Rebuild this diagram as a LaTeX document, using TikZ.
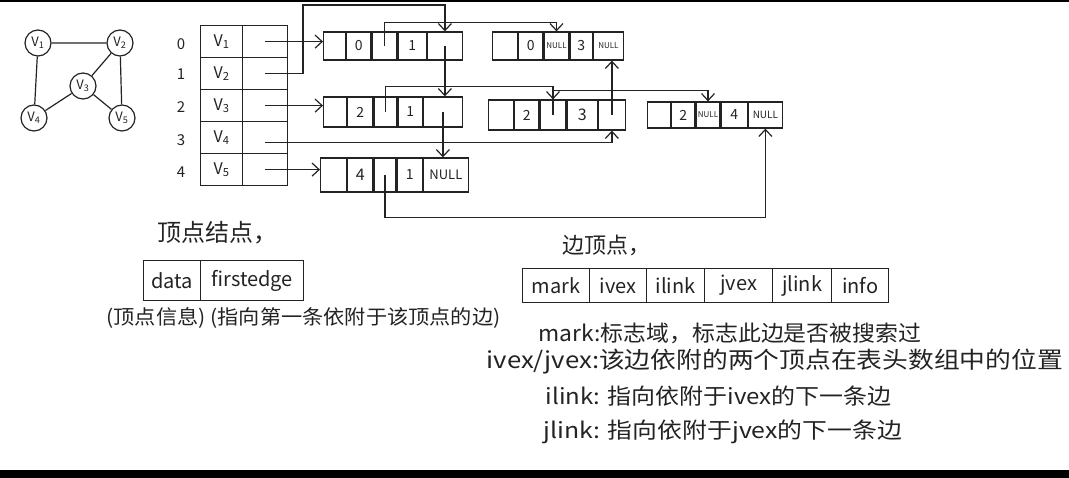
\documentclass[tikz,border=0pt]{standalone}
\usepackage{graphicx}
\usepackage{fontspec}
\setmainfont{Noto Sans CJK SC}
\usetikzlibrary{arrows.meta,calc}
\definecolor{ink}{RGB}{35,35,35}
\newcommand\fs[1]{\fontsize{#1}{#1}\selectfont}
\begin{document}
\begin{tikzpicture}[x=1pt,y=-1pt,line width=1.2pt,draw=ink,text=ink,
  vtx/.style={draw,circle,minimum size=26pt,inner sep=0pt,font=\fs{13}},
  vcell/.style={draw,anchor=north west,minimum height=32pt,inner sep=0pt,font=\fs{16}},
  idx/.style={inner sep=0pt,font=\fs{15}},
  ecell/.style={draw,anchor=west,inner sep=0pt,font=\fs{14}},
  nul/.style={font=\fs{8}},
  ptr/.style={-{Straight Barb[length=7pt,width=13pt]},line width=1.2pt},
  lbl/.style={inner sep=0pt},
  desc/.style={anchor=west,inner sep=0pt,font=\fs{22}},
  bcell/.style={draw,anchor=north west,inner sep=0pt,font=\fs{20}}]
\useasboundingbox (0,0) rectangle (1069,478);
\fill[black] (0,0) rectangle (1069,2);
\fill[black] (0,470) rectangle (1069,478);

% graph
\node[vtx] (v1) at (38,43) {V\textsubscript{1}};
\node[vtx] (v2) at (120,43) {V\textsubscript{2}};
\node[vtx] (v3) at (83,86) {V\textsubscript{3}};
\node[vtx] (v4) at (34,118) {V\textsubscript{4}};
\node[vtx] (v5) at (122,118) {V\textsubscript{5}};
\draw (v1)--(v2) (v1)--(v4) (v2)--(v3) (v2)--(v5) (v3)--(v4) (v3)--(v5);

% vertex table
\node[vcell,minimum width=42pt] (d0) at (200,25) {V\textsubscript{1}};
\node[vcell,minimum width=45pt] (f0) at (242,25) {};
\node[vcell,minimum width=42pt] (d1) at (200,57) {V\textsubscript{2}};
\node[vcell,minimum width=45pt] (f1) at (242,57) {};
\node[vcell,minimum width=42pt] (d2) at (200,89) {V\textsubscript{3}};
\node[vcell,minimum width=45pt] (f2) at (242,89) {};
\node[vcell,minimum width=42pt] (d3) at (200,121) {V\textsubscript{4}};
\node[vcell,minimum width=45pt] (f3) at (242,121) {};
\node[vcell,minimum width=42pt] (d4) at (200,153) {V\textsubscript{5}};
\node[vcell,minimum width=45pt] (f4) at (242,153) {};
\node[idx] (i0) at (181,44) {0};
\node[idx] (i1) at (181,74) {1};
\node[idx] (i2) at (181,107) {2};
\node[idx] (i3) at (181,140) {3};
\node[idx] (i4) at (181,172) {4};

% edge node A (0,1)
\node[ecell,minimum height=28pt,minimum width=22pt] (A1) at (323,46) {};
\node[ecell,minimum height=28pt,minimum width=24pt] (A2) at (A1.east) {0};
\node[ecell,minimum height=28pt,minimum width=25pt] (A3) at (A2.east) {};
\node[ecell,minimum height=28pt,minimum width=28pt] (A4) at (A3.east) {1};
\node[ecell,minimum height=28pt,minimum width=35pt] (A5) at (A4.east) {};
% edge node B (0,3)
\node[ecell,minimum height=28pt,minimum width=25pt] (B1) at (492,46) {};
\node[ecell,minimum height=28pt,minimum width=24pt] (B2) at (B1.east) {0};
\node[ecell,minimum height=28pt,minimum width=25pt,nul] (B3) at (B2.east) {NULL};
\node[ecell,minimum height=28pt,minimum width=22pt] (B4) at (B3.east) {3};
\node[ecell,minimum height=28pt,minimum width=30pt,nul] (B5) at (B4.east) {NULL};
% edge node C (2,1)
\node[ecell,minimum height=30pt,minimum width=23pt] (C1) at (323,112) {};
\node[ecell,minimum height=30pt,minimum width=25pt] (C2) at (C1.east) {2};
\node[ecell,minimum height=30pt,minimum width=23pt] (C3) at (C2.east) {};
\node[ecell,minimum height=30pt,minimum width=24pt] (C4) at (C3.east) {1};
\node[ecell,minimum height=30pt,minimum width=39pt] (C5) at (C4.east) {};
% edge node D (2,3)
\node[ecell,minimum height=30pt,minimum width=25pt] (D1) at (488,115) {};
\node[ecell,minimum height=30pt,minimum width=24pt] (D2) at (D1.east) {2};
\node[ecell,minimum height=30pt,minimum width=26pt] (D3) at (D2.east) {};
\node[ecell,minimum height=30pt,minimum width=30pt,font=\fs{16}] (D4) at (D3.east) {3};
\node[ecell,minimum height=30pt,minimum width=27pt] (D5) at (D4.east) {};
% edge node E (2,4)
\node[ecell,minimum height=26pt,minimum width=23pt] (E1) at (647,115) {};
\node[ecell,minimum height=26pt,minimum width=23pt] (E2) at (E1.east) {2};
\node[ecell,minimum height=26pt,minimum width=24pt,nul] (E3) at (E2.east) {NULL};
\node[ecell,minimum height=26pt,minimum width=26pt] (E4) at (E3.east) {4};
\node[ecell,minimum height=26pt,minimum width=34pt,font=\fs{10}] (E5) at (E4.east) {NULL};
% edge node F (4,1)
\node[ecell,minimum height=34pt,minimum width=26pt] (F1) at (320,175) {};
\node[ecell,minimum height=34pt,minimum width=25pt,font=\fs{16}] (F2) at (F1.east) {4};
\node[ecell,minimum height=34pt,minimum width=22pt] (F3) at (F2.east) {};
\node[ecell,minimum height=34pt,minimum width=25pt] (F4) at (F3.east) {1};
\node[ecell,minimum height=34pt,minimum width=45pt,font=\fs{13}] (F5) at (F4.east) {NULL};

% pointers from vertex table
\draw[ptr] (f0.center) -- (f0.center -| A1.west);
\coordinate (r1) at (303,5);
\draw[ptr] (f1.center) -| (r1) -| (A5.north);
\draw[ptr] (f2.center) -- (f2.center -| C1.west);
\draw[ptr] ($(f3.center)+(0,5)$) -| (D5.south);
\draw[ptr] (f4.center) -- (f4.center -| F1.west);

% links between edge nodes
\coordinate (ka) at ($(A3.north)+(0,-9)$);
\draw[ptr] (A3.center) -- (ka) -| (B3.north);
\draw[ptr] (A5.center) -- (A5.center |- C5.north);
\coordinate (kc) at ($(C3.north)+(0,-10)$);
\draw[ptr] (C3.center) -- (kc) -| (D3.north);
\draw[ptr] (C5.center) -- (C5.center |- F5.north);
\coordinate (kd) at ($(D3.north)+(0,-9)$);
\draw[ptr] (D3.center) -- (kd) -| (E3.north);
\draw[ptr] (D5.center) -- (D5.center |- B5.south);
\coordinate (kf) at ($(F3.south)+(0,25)$);
\draw[ptr] (F3.center) -- (kf) -| (E5.south);

% vertex node format
\node[lbl,font=\fs{24}] (t1) at (217,233) {顶点结点，};
\node[bcell,minimum width=57pt,minimum height=40pt] (vb1) at (143,260) {data};
\node[bcell,minimum width=103pt,minimum height=40pt] (vb2) at (200,260) {firstedge};
\node[lbl,anchor=west,font=\fs{20}] (cap) at (106,318) {\scalebox{1.06}[1]{(顶点信息) (指向第一条依附于该顶点的边)}};

% edge node format
\node[lbl,font=\fs{22}] (t2) at (606,245) {边顶点，};
\node[bcell,minimum width=67pt,minimum height=34pt] (e1) at (522,268) {mark};
\node[bcell,minimum width=57pt,minimum height=34pt] (e2) at (589,268) {ivex};
\node[bcell,minimum width=58pt,minimum height=34pt] (e3) at (646,268) {ilink};
\node[bcell,minimum width=68pt,minimum height=34pt] (e4) at (704,268) {jvex};
\node[bcell,minimum width=59pt,minimum height=34pt] (e5) at (772,268) {jlink};
\node[bcell,minimum width=57pt,minimum height=34pt] (e6) at (831,268) {info};

\node[desc] (m1) at (538,333) {\scalebox{1.04}[1]{mark:标志域，标志此边是否被搜索过}};
\node[desc,font=\fs{23}] (m2) at (486,362) {\scalebox{1.12}[1]{ivex/jvex:该边依附的两个顶点在表头数组中的位置}};
\node[desc] (m3) at (545,396) {\scalebox{1.09}[1]{ilink: 指向依附于ivex的下一条边}};
\node[desc] (m4) at (543,432) {\scalebox{1.13}[1]{jlink: 指向依附于jvex的下一条边}};
\end{tikzpicture}
\end{document}
